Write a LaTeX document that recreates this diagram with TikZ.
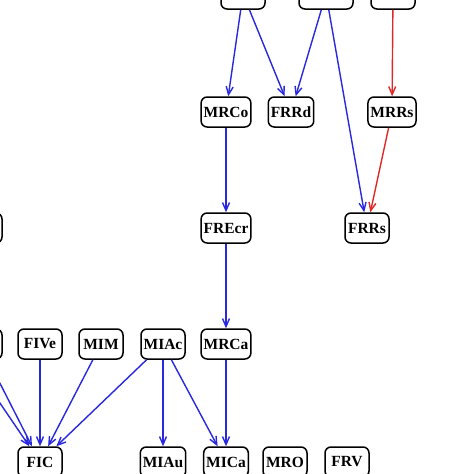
\documentclass[tikz,border=0pt]{standalone}
\usepackage{fontspec}
\setmainfont{Liberation Serif}
\usetikzlibrary{arrows.meta}
\definecolor{linkblue}{RGB}{40,40,225}
\definecolor{linkred}{RGB}{225,40,40}
\tikzset{
    var/.style={draw=black, line width=1.5pt, rounded corners=6pt, fill=white,
        minimum width=44pt, minimum height=30pt, inner xsep=2.5pt,
        font=\fontsize{15.5}{16}\selectfont\bfseries},
    poslink/.style={->, linkblue, line width=1.4pt},
    neglink/.style={->, linkred, line width=1.4pt},
    >={Straight Barb[length=8pt,width=7pt]}
}
\begin{document}
\begin{tikzpicture}[x=1pt,y=-1pt]
        \useasboundingbox (0,0) rectangle (474,474);
        \clip (0,0) rectangle (474,474);
        % variables
            \node[var] (top1) at (243,-6) {};
            \node[var, minimum width=54pt] (top2) at (326,-6) {};
            \node[var] (top3) at (393,-6) {};
            \node[var] (MRCo) at (226,112) {MRCo};
            \node[var] (FRRd) at (291,112) {FRRd};
            \node[var] (MRRs) at (392,112) {MRRs};
            \node[var] (left3) at (-20,228) {};
            \node[var] (farleft) at (-119,228) {};
            \node[var] (FREcr) at (226,228) {FREcr};
            \node[var] (FRRs) at (367,228) {FRRs};
            \node[var] (left2) at (-20,344) {};
            \foreach \x/\v in {40/FIVe,101/MIM,163/MIAc,226/MRCa}{
                \node[var] (\v) at (\x,344) {\v};
            }
            \foreach \x/\v in {40/FIC,163/MIAu,226/MICa,285/MRO,347/FRV}{
                \node[var] (\v) at (\x,462) {\v};
            }
        % links
            \foreach \a/\b in {top1/MRCo,top1/FRRd,top2/FRRd,top2/FRRs,MRCo/FREcr,FREcr/MRCa,
                left2/FIC,farleft/FIC,FIVe/FIC,MIM/FIC,MIAc/FIC,MIAc/MIAu,MIAc/MICa,MRCa/MICa}{
                \draw[poslink] (\a) -- (\b);
            }
            \draw[neglink] (top3) -- (MRRs);
            \draw[neglink] (MRRs) -- (FRRs);
\end{tikzpicture}
\end{document}
